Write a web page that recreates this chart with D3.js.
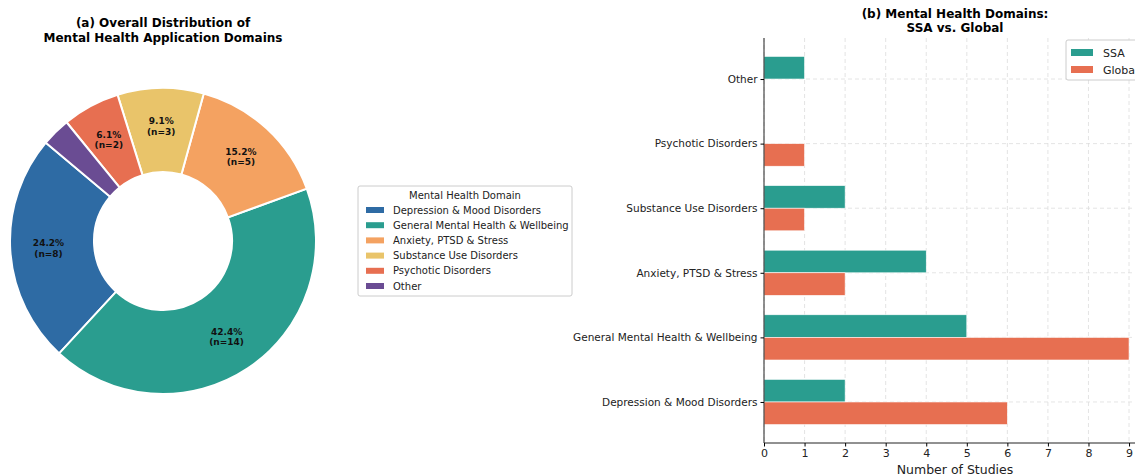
<!DOCTYPE html>
<html>
<head>
<meta charset="utf-8">
<script src="https://cdn.jsdelivr.net/npm/d3@7"></script>
<style>
  html, body { margin: 0; padding: 0; background: #fff; }
  svg { display: block; font-family: "DejaVu Sans", sans-serif; }
</style>
</head>
<body>
<svg id="chart" width="1135" height="476"></svg>
<script>
// Mental health domains (pie order)
const domains = [
  "Depression & Mood Disorders",
  "General Mental Health & Wellbeing",
  "Anxiety, PTSD & Stress",
  "Substance Use Disorders",
  "Psychotic Disorders",
  "Other"
];
const domainCounts = [8, 14, 5, 3, 2, 1];
const domainColors = ["#2E6BA4", "#2A9D8F", "#F4A261", "#E9C46A", "#E76F51", "#6A4C93"];

// Bar comparison (bottom to top)
const barCategories = domains;
const ssaCounts    = [2, 5, 4, 2, 0, 1];
const globalCounts = [6, 9, 2, 1, 1, 0];
const seriesNames  = ["SSA", "Global"];
const seriesColors = ["#2A9D8F", "#E76F51"];
const xTicks = [0, 1, 2, 3, 4, 5, 6, 7, 8, 9];

const svg = d3.select("#chart");

// ---------- (a) donut ----------
const cx = 163, cy = 241, R = 153, r0 = 69;
const total = d3.sum(domainCounts);
const start = -50 * Math.PI / 180;
const pie = d3.pie().sort(null).startAngle(start).endAngle(start - 2 * Math.PI);
const arcs = pie(domainCounts);
const arc = d3.arc().innerRadius(r0).outerRadius(R);
const labelArc = d3.arc().innerRadius(R * 0.75).outerRadius(R * 0.75);

const g = svg.append("g").attr("transform", `translate(${cx},${cy})`);
g.selectAll("path").data(arcs).join("path")
  .attr("d", arc)
  .attr("fill", (d, i) => domainColors[i])
  .attr("stroke", "#fff").attr("stroke-width", 2);

g.selectAll("text.pct").data(arcs.filter(d => d.value / total >= 0.05)).join("text")
  .attr("class", "pct")
  .attr("transform", d => `translate(${labelArc.centroid(d)})`)
  .attr("text-anchor", "middle")
  .attr("font-size", 9).attr("font-weight", "bold").attr("fill", "#111")
  .each(function(d) {
    const t = d3.select(this);
    t.append("tspan").attr("x", 0).attr("dy", "-0.2em").text((d.value / total * 100).toFixed(1) + "%");
    t.append("tspan").attr("x", 0).attr("dy", "1.15em").text(`(n=${d.value})`);
  });

svg.append("text").attr("x", 163).attr("y", 27).attr("text-anchor", "middle")
  .attr("font-size", 12).attr("font-weight", "bold").text("(a) Overall Distribution of");
svg.append("text").attr("x", 163).attr("y", 42).attr("text-anchor", "middle")
  .attr("font-size", 12).attr("font-weight", "bold").text("Mental Health Application Domains");

// legend for donut
const lg = svg.append("g").attr("transform", "translate(358,186)");
lg.append("rect").attr("width", 214).attr("height", 110).attr("rx", 2)
  .attr("fill", "#fff").attr("stroke", "#ccc");
lg.append("text").attr("x", 107).attr("y", 13).attr("text-anchor", "middle")
  .attr("font-size", 10).attr("fill", "#222").text("Mental Health Domain");
domains.forEach((name, i) => {
  const y = 24 + i * 15.2;
  lg.append("rect").attr("x", 8).attr("y", y - 3).attr("width", 18).attr("height", 6)
    .attr("fill", domainColors[i]);
  lg.append("text").attr("x", 35).attr("y", y + 3.5).attr("font-size", 10).attr("fill", "#222").text(name);
});

// ---------- (b) grouped horizontal bars ----------
const h = 0.35;
const x = d3.scaleLinear().domain([0, 9.45]).range([764, 764 + 9.45 * 40.56]);
const y = d3.scaleLinear().domain([-0.635, 5.635]).range([443, 38]);
const bandPx = y(0) - y(h);

const grid = svg.append("g").attr("stroke", "#ddd").attr("stroke-dasharray", "4,3").attr("stroke-width", 0.8);
xTicks.forEach(t => grid.append("line").attr("x1", x(t)).attr("x2", x(t)).attr("y1", 38).attr("y2", 443));
barCategories.forEach((c, i) => grid.append("line").attr("x1", 764).attr("x2", 1135).attr("y1", y(i)).attr("y2", y(i)));

const bars = svg.append("g");
barCategories.forEach((c, i) => {
  bars.append("rect").attr("x", x(0)).attr("y", y(i + h)).attr("width", x(ssaCounts[i]) - x(0))
    .attr("height", bandPx).attr("fill", seriesColors[0]).attr("stroke", "#fff").attr("stroke-width", 0.6);
  bars.append("rect").attr("x", x(0)).attr("y", y(i)).attr("width", x(globalCounts[i]) - x(0))
    .attr("height", bandPx).attr("fill", seriesColors[1]).attr("stroke", "#fff").attr("stroke-width", 0.6);
});

const xAxis = svg.append("g").attr("transform", "translate(0,443)")
  .call(d3.axisBottom(x).tickValues(xTicks).tickFormat(d3.format("d")).tickSize(3.5).tickPadding(3));
xAxis.select(".domain").attr("d", `M764,0H1135`).attr("stroke", "#222");
xAxis.selectAll("text").attr("font-size", 11).attr("fill", "#222").attr("font-family", "DejaVu Sans");

const yAxis = svg.append("g").attr("transform", "translate(764,0)")
  .call(d3.axisLeft(y).tickValues(d3.range(barCategories.length)).tickFormat(i => barCategories[i]).tickSize(3.5).tickPadding(3));
yAxis.select(".domain").attr("d", "M0,38V443").attr("stroke", "#222");
yAxis.selectAll("text").attr("font-size", 10.5).attr("fill", "#222").attr("font-family", "DejaVu Sans");

svg.append("text").attr("x", 955).attr("y", 474).attr("text-anchor", "middle")
  .attr("font-size", 12.5).attr("fill", "#222").text("Number of Studies");

svg.append("text").attr("x", 955).attr("y", 18).attr("text-anchor", "middle")
  .attr("font-size", 12).attr("font-weight", "bold").text("(b) Mental Health Domains:");
svg.append("text").attr("x", 955).attr("y", 32).attr("text-anchor", "middle")
  .attr("font-size", 12).attr("font-weight", "bold").text("SSA vs. Global");

const lg2 = svg.append("g").attr("transform", "translate(1066,40)");
lg2.append("rect").attr("width", 80).attr("height", 40).attr("rx", 2).attr("fill", "#fff").attr("stroke", "#ccc");
seriesNames.forEach((n, i) => {
  const yy = 12 + i * 17;
  lg2.append("rect").attr("x", 5).attr("y", yy - 3).attr("width", 22).attr("height", 7).attr("fill", seriesColors[i]);
  lg2.append("text").attr("x", 37).attr("y", yy + 4.5).attr("font-size", 11).attr("fill", "#222").text(n);
});
</script>
</body>
</html>
